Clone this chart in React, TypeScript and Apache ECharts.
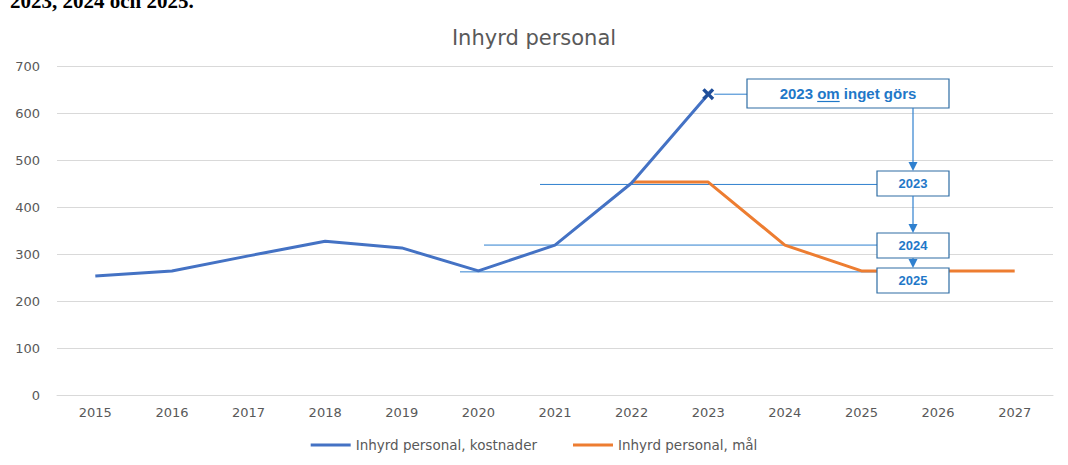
import React, { useEffect, useRef } from "react";
import * as echarts from "echarts";

const years = ["2015", "2016", "2017", "2018", "2019", "2020", "2021", "2022", "2023", "2024", "2025", "2026", "2027"];
const kostnader: (number | null)[] = [253, 264, 296, 327, 313, 264, 319, 451, 640, null, null, null, null];
const mal: (number | null)[] = [null, null, null, null, null, null, null, 453, 453, 319, 264, 264, 264];
const seriesNames = ["Inhyrd personal, kostnader", "Inhyrd personal, mål"];
const guideLevels = [448, 319, 262];
const guideStartX = [540, 484, 460];
const boxLabels = ["2023", "2024", "2025"];
const boxTops = [171, 233, 268];
const noteParts = ["2023 ", "om", " inget görs"];
const headingText = "2023, 2024 och 2025.";

const X_PATH = "path://M2,0 L5,3 L8,0 L10,2 L7,5 L10,8 L8,10 L5,7 L2,10 L0,8 L3,5 L0,2 Z";
const FONT = "'DejaVu Sans', sans-serif";
const ANN_LINE = "#2F80CF";
const ANN_BORDER = "#2E6DA4";
const ANN_TEXT = "#1F78C8";

function measure(text: string, font: string): number {
  const c = document.createElement("canvas").getContext("2d")!;
  c.font = font;
  return c.measureText(text).width;
}

export default function App() {
  const ref = useRef<HTMLDivElement>(null);
  useEffect(() => {
    if (!ref.current) return;
    const chart = echarts.init(ref.current, undefined, { renderer: "svg" });
    const kostData = kostnader.map((v, i) =>
      i === 8 ? { value: v, symbol: X_PATH, symbolSize: 12, itemStyle: { color: "#1F4E9A" } } : v
    );
    chart.setOption({
      animation: false,
      backgroundColor: "#ffffff",
      title: {
        text: "Inhyrd personal",
        left: "center",
        top: 22,
        textStyle: { fontFamily: FONT, fontSize: 21, fontWeight: "normal", color: "#595959" },
      },
      grid: { left: 57, right: 15, top: 66, bottom: 70 },
      legend: {
        bottom: 8,
        left: "center",
        itemWidth: 40,
        itemHeight: 3,
        itemGap: 36,
        icon: "rect",
        textStyle: { fontFamily: FONT, fontSize: 13.5, color: "#595959" },
        data: seriesNames,
      },
      xAxis: {
        type: "category",
        data: years,
        boundaryGap: true,
        axisLine: { show: true, lineStyle: { color: "#d9d9d9" } },
        axisTick: { show: false },
        axisLabel: { fontFamily: FONT, fontSize: 13, color: "#595959", margin: 11 },
      },
      yAxis: {
        type: "value",
        min: 0,
        max: 700,
        interval: 100,
        axisLine: { show: false },
        axisTick: { show: false },
        splitLine: { lineStyle: { color: "#d9d9d9", width: 1 } },
        axisLabel: { fontFamily: FONT, fontSize: 13, color: "#595959", margin: 17 },
      },
      series: [
        {
          name: seriesNames[0],
          type: "line",
          data: kostData,
          symbol: "none",
          showSymbol: true,
          lineStyle: { color: "#4472C4", width: 3 },
          itemStyle: { color: "#4472C4" },
          z: 3,
        },
        {
          name: seriesNames[1],
          type: "line",
          data: mal,
          symbol: "none",
          lineStyle: { color: "#ED7D31", width: 3 },
          itemStyle: { color: "#ED7D31" },
          z: 2,
        },
      ],
    });

    const toPx = (xi: number, v: number) =>
      chart.convertToPixel({ gridIndex: 0 } as any, [xi, v]) as number[];

    const BOX_X = 877;
    const BOX_W = 72;
    const BOX_H = 25;
    const arrowX = BOX_X + BOX_W / 2;
    const big = { x: 747, y: 79, w: 202, h: 29 };
    const els: any[] = [];

    // heading text at page top (cut off, as in the source page)
    els.push({
      type: "text",
      x: 10,
      y: 11,
      z: 100,
      style: {
        text: headingText,
        fontFamily: "'Liberation Serif', 'Times New Roman', serif",
        fontWeight: "bold",
        fontSize: 21,
        fill: "#000",
        verticalAlign: "bottom",
      },
    });

    // guide lines
    guideLevels.forEach((v, i) => {
      const y = toPx(0, v)[1];
      els.push({
        type: "line",
        z: 1,
        shape: { x1: guideStartX[i], y1: y, x2: BOX_X, y2: y },
        style: { stroke: ANN_LINE, lineWidth: 1 },
      });
    });

    // connector from marker to note box
    const mk = toPx(8, kostnader[8] as number);
    els.push({
      type: "line",
      z: 90,
      shape: { x1: mk[0] + 6, y1: mk[1], x2: big.x, y2: mk[1] },
      style: { stroke: ANN_LINE, lineWidth: 1 },
    });

    // big note box
    els.push({
      type: "rect",
      z: 95,
      shape: { x: big.x, y: big.y, width: big.w, height: big.h },
      style: { fill: "#fff", stroke: ANN_BORDER, lineWidth: 1.2 },
    });
    const noteFont = "bold 15px 'Liberation Sans', Arial, sans-serif";
    const widths = noteParts.map((p) => measure(p, noteFont));
    const total = widths.reduce((a, b) => a + b, 0);
    let cx = big.x + big.w / 2 - total / 2;
    const ty = big.y + big.h / 2;
    noteParts.forEach((p, i) => {
      els.push({
        type: "text",
        z: 96,
        x: cx,
        y: ty,
        style: {
          text: p,
          fontFamily: "'Liberation Sans', Arial, sans-serif",
          fontWeight: "bold",
          fontSize: 15,
          fill: ANN_TEXT,
          verticalAlign: "middle",
          align: "left",
        },
      });
      if (i === 1) {
        els.push({
          type: "line",
          z: 96,
          shape: { x1: cx, y1: ty + 8, x2: cx + widths[i], y2: ty + 8 },
          style: { stroke: ANN_TEXT, lineWidth: 1.2 },
        });
      }
      cx += widths[i];
    });

    // arrows
    const arrowFrom = [big.y + big.h, boxTops[0] + BOX_H, boxTops[1] + BOX_H];
    arrowFrom.forEach((from, i) => {
      const to = boxTops[i];
      els.push({
        type: "line",
        z: 97,
        shape: { x1: arrowX, y1: from, x2: arrowX, y2: to - 8 },
        style: { stroke: ANN_LINE, lineWidth: 1.2 },
      });
      els.push({
        type: "polygon",
        z: 97,
        shape: { points: [[arrowX - 4.5, to - 9], [arrowX + 4.5, to - 9], [arrowX, to]] },
        style: { fill: ANN_LINE },
      });
    });

    // small boxes
    boxLabels.forEach((lab, i) => {
      els.push({
        type: "rect",
        z: 95,
        shape: { x: BOX_X, y: boxTops[i], width: BOX_W, height: BOX_H },
        style: { fill: "#fff", stroke: ANN_BORDER, lineWidth: 1.2 },
      });
      els.push({
        type: "text",
        z: 96,
        x: BOX_X + BOX_W / 2,
        y: boxTops[i] + BOX_H / 2,
        style: {
          text: lab,
          fontFamily: "'Liberation Sans', Arial, sans-serif",
          fontWeight: "bold",
          fontSize: 13,
          fill: ANN_TEXT,
          align: "center",
          verticalAlign: "middle",
        },
      });
    });

    chart.setOption({ graphic: els });
    return () => chart.dispose();
  }, []);
  return (
    <div
      ref={ref}
      style={{ position: "absolute", left: 0, top: 0, width: 1068, height: 465 }}
    />
  );
}
